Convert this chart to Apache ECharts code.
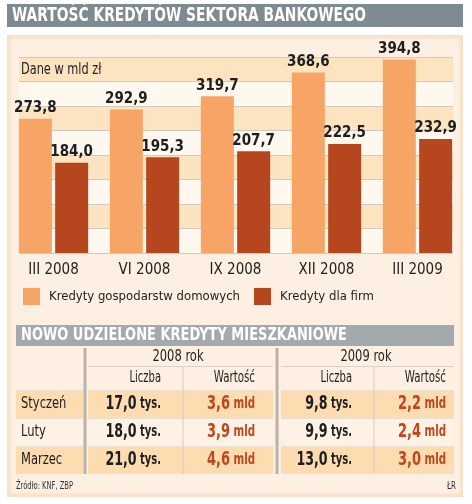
<!DOCTYPE html>
<html><head><meta charset="utf-8">
<script src="https://cdn.jsdelivr.net/npm/echarts@6/dist/echarts.min.js"></script>
<style>html,body{margin:0;padding:0;background:#fff}#c{width:472px;height:504px}</style>
</head><body><div id="c"></div>
<script>
// ---- data ----
const categories = ['III 2008', 'VI 2008', 'IX 2008', 'XII 2008', 'III 2009'];
const households = [273.8, 292.9, 319.7, 368.6, 394.8];
const firms = [184.0, 195.3, 207.7, 222.5, 232.9];
const seriesNames = ['Kredyty gospodarstw domowych', 'Kredyty dla firm'];
const months = ['Styczeń', 'Luty', 'Marzec'];
const yearLabels = ['2008 rok', '2009 rok'];
const colLabels = ['Liczba', 'Wartość'];
const count2008 = [17.0, 18.0, 21.0];
const value2008 = [3.6, 3.9, 4.6];
const count2009 = [9.8, 9.9, 13.0];
const value2009 = [2.2, 2.4, 3.0];

// ---- style ----
const F = '"DejaVu Sans Condensed","Liberation Sans Narrow","Open Sans",sans-serif';
const DARK = '#1e1e1e';
const ORANGE = '#f7a566';
const BROWN = '#b5461d';
const RED = '#c0461c';
const TAN = '#fcdcb0';
const CREAM = '#fdf2e4';
const fmt = v => v.toFixed(1).replace('.', ',');

// table layout (table units = px inside table grid)
const COL = { label: [0, 67], g08: [72, 257], g09: [265, 438] };
const ANCH = [145, 239, 336, 430];   // right-align anchors: L08, W08, L09, W09
const DIV = [167, 358];              // Liczba / Wartość dividers
const SEP = [69, 261];               // group separators
const YC = [162, 350];               // year header centers
const ROWS = [[0, 18], [18, 42], [42, 70], [70, 98], [98, 126]];

function gtext(str, x, y, sx, style) {
  return { type: 'text', z: 5, x: x, y: y, scaleX: sx,
    style: Object.assign({ text: str, x: 0, y: 0, verticalAlign: 'middle', fontFamily: F, fill: DARK }, style) };
}

function renderRow(params, api) {
  const r = params.dataIndex;
  const [y0, y1] = ROWS[r];
  const kids = [];
  const P = (x, y) => api.coord([x, y]);
  const ym = P(0, (y0 + y1) / 2)[1];
  const rect = (xa, xb, fill) => {
    const a = P(xa, y0), b = P(xb, y1);
    kids.push({ type: 'rect', shape: { x: a[0], y: a[1], width: b[0] - a[0], height: b[1] - a[1] }, style: { fill } });
  };
  const hline = (xa, xb, yy, color) => {
    const a = P(xa, yy), b = P(xb, yy);
    kids.push({ type: 'line', shape: { x1: a[0], y1: a[1] + 0.5, x2: b[0], y2: b[1] + 0.5 }, style: { stroke: color, lineWidth: 1 } });
  };
  const vline = (xx, ya, yb, color, w) => {
    const a = P(xx, ya), b = P(xx, yb);
    kids.push({ type: 'line', shape: { x1: a[0], y1: a[1], x2: b[0], y2: b[1] }, style: { stroke: color, lineWidth: w } });
  };
  const text = (x, str, align, sx, extra) => {
    kids.push({ type: 'text', x: P(x, 0)[0], y: ym, scaleX: sx,
      style: Object.assign({ text: str, x: 0, y: 0, align: align, verticalAlign: 'middle', fontFamily: F, fontSize: 16, fill: DARK }, extra || {}) });
  };
  if (r === 0) {
    text(YC[0], yearLabels[0], 'center', 0.8);
    text(YC[1], yearLabels[1], 'center', 0.8);
    hline(COL.g08[0], COL.g08[1], y1, '#ddd2c6');
    hline(COL.g09[0], COL.g09[1], y1, '#ddd2c6');
  } else if (r === 1) {
    text(ANCH[0], colLabels[0], 'right', 0.74, { fontSize: 15 });
    text(ANCH[1], colLabels[1], 'right', 0.76, { fontSize: 15 });
    text(ANCH[2], colLabels[0], 'right', 0.74, { fontSize: 15 });
    text(ANCH[3], colLabels[1], 'right', 0.76, { fontSize: 15 });
  } else {
    const i = r - 2;
    const bg = i % 2 === 0 ? TAN : CREAM;
    rect(COL.label[0], COL.label[1], bg);
    rect(COL.g08[0], COL.g08[1], bg);
    rect(COL.g09[0], COL.g09[1], bg);
    text(5, months[i], 'left', 0.8);
    const rich = (c) => ({
      n: { fontSize: 19, fontWeight: 'bold', fontFamily: F, fill: c },
      u: { fontSize: 15, fontWeight: 'bold', fontFamily: F, fill: c }
    });
    text(ANCH[0], '{n|' + fmt(count2008[i]) + '} {u|tys.}', 'right', 0.74, { rich: rich(DARK) });
    text(ANCH[1], '{n|' + fmt(value2008[i]) + '} {u|mld}', 'right', 0.76, { rich: rich(RED) });
    text(ANCH[2], '{n|' + fmt(count2009[i]) + '} {u|tys.}', 'right', 0.74, { rich: rich(DARK) });
    text(ANCH[3], '{n|' + fmt(value2009[i]) + '} {u|mld}', 'right', 0.76, { rich: rich(RED) });
    hline(COL.label[0], COL.label[1], y0, '#eadfd3');
    hline(COL.g08[0], COL.g08[1], y0, '#eadfd3');
    hline(COL.g09[0], COL.g09[1], y0, '#eadfd3');
  }
  if (r >= 1) {
    vline(DIV[0], y0, y1, '#d6ccc2', 1);
    vline(DIV[1], y0, y1, '#d6ccc2', 1);
  }
  vline(SEP[0], y0, y1, '#b9b3ad', 3);
  vline(SEP[1], y0, y1, '#b9b3ad', 3);
  return { type: 'group', children: kids };
}

const chart = echarts.init(document.getElementById('c'), null, { renderer: 'canvas' });
chart.setOption({
  animation: false,
  backgroundColor: '#ffffff',
  textStyle: { fontFamily: F },
  graphic: [
    { type: 'rect', z: -10, shape: { x: 7, y: 35, width: 456, height: 462 }, style: { fill: '#f8dfc4' } },
    { type: 'rect', z: -9, shape: { x: 11, y: 39, width: 448, height: 454 }, style: { fill: '#fdf0e2', shadowBlur: 6, shadowColor: '#fdf0e2' } },
    { type: 'rect', z: -8, shape: { x: 7, y: 4, width: 456, height: 23 }, style: { fill: '#7e8b92' } },
    gtext('WARTOŚĆ KREDYTÓW SEKTORA BANKOWEGO', 12, 16, 0.81, { fontWeight: 'bold', fontSize: 19, fill: '#ffffff' }),
    gtext('Dane w mld zł', 21, 70, 0.84, { fontSize: 15 }),
    { type: 'rect', z: -8, shape: { x: 16, y: 325, width: 438, height: 21 }, style: { fill: '#a3a9ad' } },
    gtext('NOWO UDZIELONE KREDYTY MIESZKANIOWE', 21, 336, 0.85, { fontWeight: 'bold', fontSize: 17, fill: '#ffffff' }),
    gtext('Źródło: KNF, ZBP', 16, 486, 0.75, { fontSize: 10, fill: '#333' }),
    gtext('ŁR', 456, 486, 0.8, { fontSize: 10, fill: '#333', align: 'right' })
  ],
  legend: {
    left: 23, top: 288, padding: 0, itemWidth: 17, itemHeight: 17, itemGap: 14, icon: 'rect',
    data: seriesNames,
    textStyle: { fontFamily: F, fontSize: 13, color: DARK, padding: [0, 0, 0, 4] }
  },
  grid: [
    { left: 19, top: 57, width: 434, height: 196 },
    { left: 8, top: 57, width: 455, height: 196 },
    { left: 16, top: 348, width: 438, height: 126 }
  ],
  xAxis: [
    { gridIndex: 0, type: 'value', min: 0, max: 1, show: false },
    { gridIndex: 1, type: 'category', data: categories, axisLine: { show: false }, axisTick: { show: false },
      axisLabel: { fontFamily: F, fontSize: 15, color: DARK, margin: 10 } },
    { gridIndex: 2, type: 'value', min: 0, max: 438, show: false }
  ],
  yAxis: [
    { gridIndex: 0, type: 'value', min: 0, max: 400, interval: 50,
      axisLine: { show: false }, axisTick: { show: false }, axisLabel: { show: false },
      splitLine: { show: true, lineStyle: { color: '#d3c9be', width: 1 } },
      splitArea: { show: true, areaStyle: { color: ['#fff8ee', '#fde4c0'] } } },
    { gridIndex: 1, type: 'value', min: 0, max: 400, show: false },
    { gridIndex: 2, type: 'value', min: 0, max: 126, inverse: true, show: false }
  ],
  series: [
    { name: seriesNames[0], type: 'bar', xAxisIndex: 1, yAxisIndex: 1, data: households,
      barWidth: 33, barGap: '10%', itemStyle: { color: ORANGE },
      label: { show: true, position: 'top', distance: 3, formatter: p => fmt(p.value),
        fontFamily: F, fontWeight: 'bold', fontSize: 15, color: DARK } },
    { name: seriesNames[1], type: 'bar', xAxisIndex: 1, yAxisIndex: 1, data: firms,
      barWidth: 33, barGap: '10%', itemStyle: { color: BROWN },
      label: { show: true, position: 'top', distance: 3, formatter: p => fmt(p.value),
        fontFamily: F, fontWeight: 'bold', fontSize: 15, color: DARK } },
    { type: 'custom', xAxisIndex: 2, yAxisIndex: 2, coordinateSystem: 'cartesian2d',
      data: ROWS.map((_, i) => [0, i]), renderItem: renderRow, silent: true }
  ]
});
</script></body></html>
